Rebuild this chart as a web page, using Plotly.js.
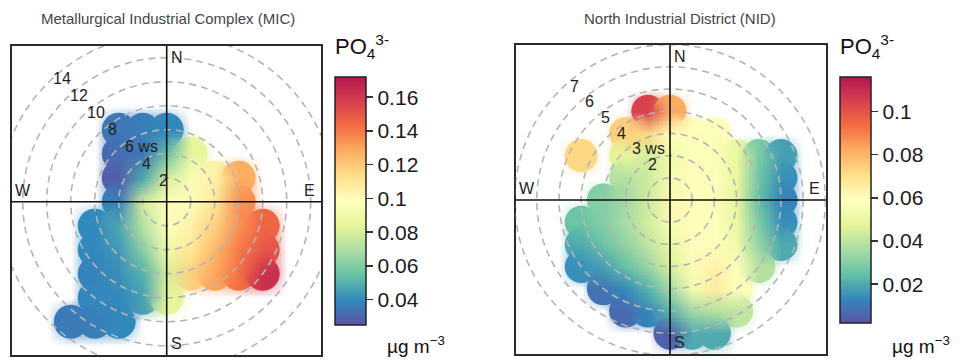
<!DOCTYPE html>
<html><head><meta charset="utf-8">
<script src="https://cdn.plot.ly/plotly-3.0.1.min.js"></script>
<style>html,body{margin:0;padding:0;background:#fff}#chart{width:965px;height:363px}</style>
</head><body><div id="chart"></div>
<script>
const n = null;

// ---------- Panel 1: Metallurgical Industrial Complex (MIC) ----------
// grid of wind components (u = east, v = north) in ws units, PO4 3- surface (µg m-3)
const micTitle = "Metallurgical Industrial Complex (MIC)";
const micU = [-10,-8,-6,-4,-2,0,2,4,6,8,10,12];
const micV = [8,6,4,2,0,-2,-4,-6,-8,-10,-12];
const micZ = [
  [n,n,n,n,n,n,n,n,n,n,n,n],
  [n,n,n,0.035,0.037,0.040,n,n,n,n,n,n],
  [n,n,n,0.032,0.035,0.055,0.085,n,n,n,n,n],
  [n,n,n,0.028,0.048,0.080,0.095,0.105,0.128,n,n,n],
  [n,n,n,0.038,0.080,0.100,0.100,0.110,0.135,n,n,n],
  [n,n,0.040,0.048,0.072,0.098,0.105,0.118,0.135,0.145,n,n],
  [n,n,0.040,0.044,0.062,0.090,0.110,0.125,0.140,0.150,n,n],
  [n,n,0.038,0.042,0.050,0.080,0.118,0.130,0.142,0.163,n,n],
  [n,n,0.040,0.040,0.046,0.085,n,n,n,n,n,n],
  [n,0.036,0.037,0.040,n,n,n,n,n,n,n,n],
  [n,n,n,n,n,n,n,n,n,n,n,n]
];
const micRings = [2,4,6,8,10,12,14];
const micLabelWs = [2,4,6,8,10,12,14];
const micLabelText = ["2","4","6 ws","8","10","12","14"];
const micScale = [0.025, 0.172];
const micTicks = [0.04,0.06,0.08,0.10,0.12,0.14,0.16];
const micTickText = ["0.04","0.06","0.08","0.1","0.12","0.14","0.16"];

// ---------- Panel 2: North Industrial District (NID) ----------
const nidTitle = "North Industrial District (NID)";
const nidU = [-7,-6,-5,-4,-3,-2,-1,0,1,2,3,4,5,6,7];
const nidV = [7,6,5,4,3,2,1,0,-1,-2,-3,-4,-5,-6,-7];
const nidZ = [
  [n,n,n,n,n,n,n,n,n,n,n,n,n,n,n],
  [n,n,n,n,n,n,n,n,n,n,n,n,n,n,n],
  [n,n,n,n,n,n,n,n,n,n,n,n,n,n,n],
  [n,n,n,n,n,n,0.104,0.082,n,n,n,n,n,n,n],
  [n,n,n,n,n,0.074,0.072,0.058,0.058,0.057,n,n,n,n,n],
  [n,n,n,0.072,n,0.048,0.044,0.052,0.058,0.057,0.050,0.028,0.018,n,n],
  [n,n,n,n,n,0.038,0.043,0.055,0.060,0.058,0.050,0.026,0.015,n,n],
  [n,n,n,n,0.030,0.035,0.043,0.062,0.060,0.057,0.048,0.024,0.012,n,n],
  [n,n,n,0.026,0.030,0.036,0.044,0.056,0.060,0.058,0.050,0.028,0.015,n,n],
  [n,n,n,0.020,0.026,0.032,0.040,0.050,0.058,0.058,0.052,0.032,0.020,n,n],
  [n,n,n,0.015,0.018,0.025,0.033,0.045,0.057,0.064,0.058,0.038,n,n,n],
  [n,n,n,n,0.009,0.014,0.022,0.035,0.055,0.066,0.058,n,n,n,n],
  [n,n,n,n,n,0.007,0.013,0.022,0.035,0.038,0.040,n,n,n,n],
  [n,n,n,n,n,n,n,0.005,0.020,0.020,n,n,n,n,n],
  [n,n,n,n,n,n,n,n,n,n,n,n,n,n,n]
];
const nidRings = [1,2,3,4,5,6,7];
const nidLabelWs = [2,3,4,5,6,7];
const nidLabelText = ["2","3 ws","4","5","6","7"];
const nidScale = [0.002, 0.116];
const nidTicks = [0.02,0.04,0.06,0.08,0.10];
const nidTickText = ["0.02","0.04","0.06","0.08","0.1"];

const spectral = ['#5B55A6','#3288BD','#66C2A5','#ABDDA4','#E6F598','#FFFFBF','#FEE08B','#FDAE61','#F46D43','#D8404F','#B3174F'];
const colorscale = spectral.map((c,i)=>[i/(spectral.length-1), c]);

// ---------- layout geometry (pixels) ----------
const W = 965, H = 363;
const FONT = 'Liberation Sans, Arial, Helvetica, sans-serif';
const G1 = {l:12, r:321, t:46, b:355, cx:166.7, cy:201.7, k:12.0, msize:34, bar:{l:335, t:77, b:325}, titleX:168};
const G2 = {l:515.7, r:825.7, t:45, b:354, cx:670, cy:200, k:22.2, msize:33, bar:{l:840, t:77, b:323}, titleX:680};

function dom(g){
  return {
    x:[g.l/W, g.r/W], y:[1-g.b/H, 1-g.t/H],
    xr:[-(g.cx-g.l)/g.k, (g.r-g.cx)/g.k], yr:[-(g.b-g.cy)/g.k, (g.cy-g.t)/g.k]
  };
}
// every grid cell with a value -> one round mark under the surface (gives the lobed outline)
function points(U,V,Z){
  const x=[],y=[],c=[];
  Z.forEach((row,j)=>row.forEach((z,i)=>{ if(z!==null){x.push(U[i]); y.push(V[j]); c.push(z);} }));
  return {x,y,c};
}
const D1 = dom(G1), D2 = dom(G2);
const P1 = points(micU,micV,micZ), P2 = points(nidU,nidV,nidZ);

const traces = [
  {type:'scatter', mode:'markers', x:P1.x, y:P1.y, xaxis:'x', yaxis:'y', hoverinfo:'skip',
   marker:{size:G1.msize, color:P1.c, coloraxis:'coloraxis', line:{width:0}, opacity:1}},
  {type:'heatmap', x:micU, y:micV, z:micZ, xaxis:'x3', yaxis:'y3', zsmooth:'fast', coloraxis:'coloraxis', hoverinfo:'skip'},
  {type:'scatter', mode:'markers', x:P2.x, y:P2.y, xaxis:'x2', yaxis:'y2', hoverinfo:'skip',
   marker:{size:G2.msize, color:P2.c, coloraxis:'coloraxis2', line:{width:0}, opacity:1}},
  {type:'heatmap', x:nidU, y:nidV, z:nidZ, xaxis:'x4', yaxis:'y4', zsmooth:'fast', coloraxis:'coloraxis2', hoverinfo:'skip'}
];

const baseAx = {showgrid:false, zeroline:false, showticklabels:false, ticks:'', showline:true, mirror:true,
                linecolor:'#2a2a2a', linewidth:2, fixedrange:true};
const hidAx = {visible:false, fixedrange:true, showgrid:false, zeroline:false};

function cbar(g, ticks, text){
  return {x:g.bar.l/W, xanchor:'left', xpad:0, ypad:0,
    y:1-((g.bar.t+g.bar.b)/2)/H, yanchor:'middle', len:g.bar.b-g.bar.t, lenmode:'pixels',
    thickness:31, thicknessmode:'pixels', outlinewidth:1.5, outlinecolor:'#222',
    ticks:'outside', ticklen:7, tickwidth:1.5, tickcolor:'#333',
    tickvals:ticks, ticktext:text, tickfont:{family:FONT, size:21, color:'#1a1a1a'}};
}

const shapes = [];
const annotations = [];
function decorate(xa, ya, rings, labWs, labText, title, g){
  rings.forEach(r=>shapes.push({type:'circle', xref:xa, yref:ya, x0:-r, x1:r, y0:-r, y1:r, layer:'above',
    line:{color:'#b4b4b4', width:1.6, dash:'7px,5px'}}));
  shapes.push({type:'line', xref:xa+' domain', yref:ya, x0:0, x1:1, y0:0, y1:0, layer:'above', line:{color:'#111', width:1.6}});
  shapes.push({type:'line', xref:xa, yref:ya+' domain', x0:0, x1:0, y0:0, y1:1, layer:'above', line:{color:'#111', width:1.6}});
  labWs.forEach((ws,i)=>annotations.push({xref:xa, yref:ya, x:-ws*Math.SQRT1_2, y:ws*Math.SQRT1_2,
    text:labText[i], showarrow:false, xanchor:'left', yanchor:'middle',
    xshift:12-4.5*String(ws).length, yshift:4, font:{family:FONT, size:16, color:'#222'}}));
  const cf = {family:FONT, size:16, color:'#222'};
  annotations.push({xref:xa, yref:ya+' domain', x:0, y:1, text:'N', showarrow:false, xanchor:'left', yanchor:'top', xshift:2, yshift:-1, font:cf});
  annotations.push({xref:xa, yref:ya+' domain', x:0, y:0, text:'S', showarrow:false, xanchor:'left', yanchor:'bottom', xshift:2, yshift:1, font:cf});
  annotations.push({xref:xa+' domain', yref:ya, x:0, y:0, text:'W', showarrow:false, xanchor:'left', yanchor:'bottom', xshift:1, yshift:1, font:cf});
  annotations.push({xref:xa+' domain', yref:ya, x:1, y:0, text:'E', showarrow:false, xanchor:'right', yanchor:'bottom', xshift:-4, yshift:1, font:cf});
  annotations.push({xref:'paper', yref:'paper', x:g.titleX/W, y:1-19/H, text:title, showarrow:false,
    xanchor:'center', yanchor:'middle', font:{family:FONT, size:15, color:'#444'}});
  annotations.push({xref:'paper', yref:'paper', x:g.bar.l/W, y:1-47/H, text:'PO<sub>4</sub><sup>3-</sup>', showarrow:false,
    xanchor:'left', yanchor:'middle', xshift:-2, font:{family:FONT, size:22, color:'#111'}});
  annotations.push({xref:'paper', yref:'paper', x:(g.bar.l+50)/W, y:1-345/H, text:'µg m<sup>−3</sup>', showarrow:false,
    xanchor:'left', yanchor:'middle', font:{family:FONT, size:19, color:'#111'}});
}
decorate('x','y',micRings,micLabelWs,micLabelText,micTitle,G1);
decorate('x2','y2',nidRings,nidLabelWs,nidLabelText,nidTitle,G2);

const layout = {
  width:W, height:H, margin:{l:0,r:0,t:0,b:0}, paper_bgcolor:'#fff', plot_bgcolor:'#fff',
  showlegend:false, hovermode:false, font:{family:FONT},
  xaxis:Object.assign({}, baseAx, {domain:D1.x, range:D1.xr, anchor:'y'}),
  yaxis:Object.assign({}, baseAx, {domain:D1.y, range:D1.yr, anchor:'x'}),
  xaxis2:Object.assign({}, baseAx, {domain:D2.x, range:D2.xr, anchor:'y2'}),
  yaxis2:Object.assign({}, baseAx, {domain:D2.y, range:D2.yr, anchor:'x2'}),
  xaxis3:Object.assign({}, hidAx, {overlaying:'x', range:D1.xr, anchor:'y3'}),
  yaxis3:Object.assign({}, hidAx, {overlaying:'y', range:D1.yr, anchor:'x3'}),
  xaxis4:Object.assign({}, hidAx, {overlaying:'x2', range:D2.xr, anchor:'y4'}),
  yaxis4:Object.assign({}, hidAx, {overlaying:'y2', range:D2.yr, anchor:'x4'}),
  coloraxis:{cmin:micScale[0], cmax:micScale[1], colorscale:colorscale, colorbar:cbar(G1, micTicks, micTickText)},
  coloraxis2:{cmin:nidScale[0], cmax:nidScale[1], colorscale:colorscale, colorbar:cbar(G2, nidTicks, nidTickText)},
  shapes:shapes, annotations:annotations
};
Plotly.newPlot('chart', traces, layout, {staticPlot:true, displayModeBar:false});
</script></body></html>
